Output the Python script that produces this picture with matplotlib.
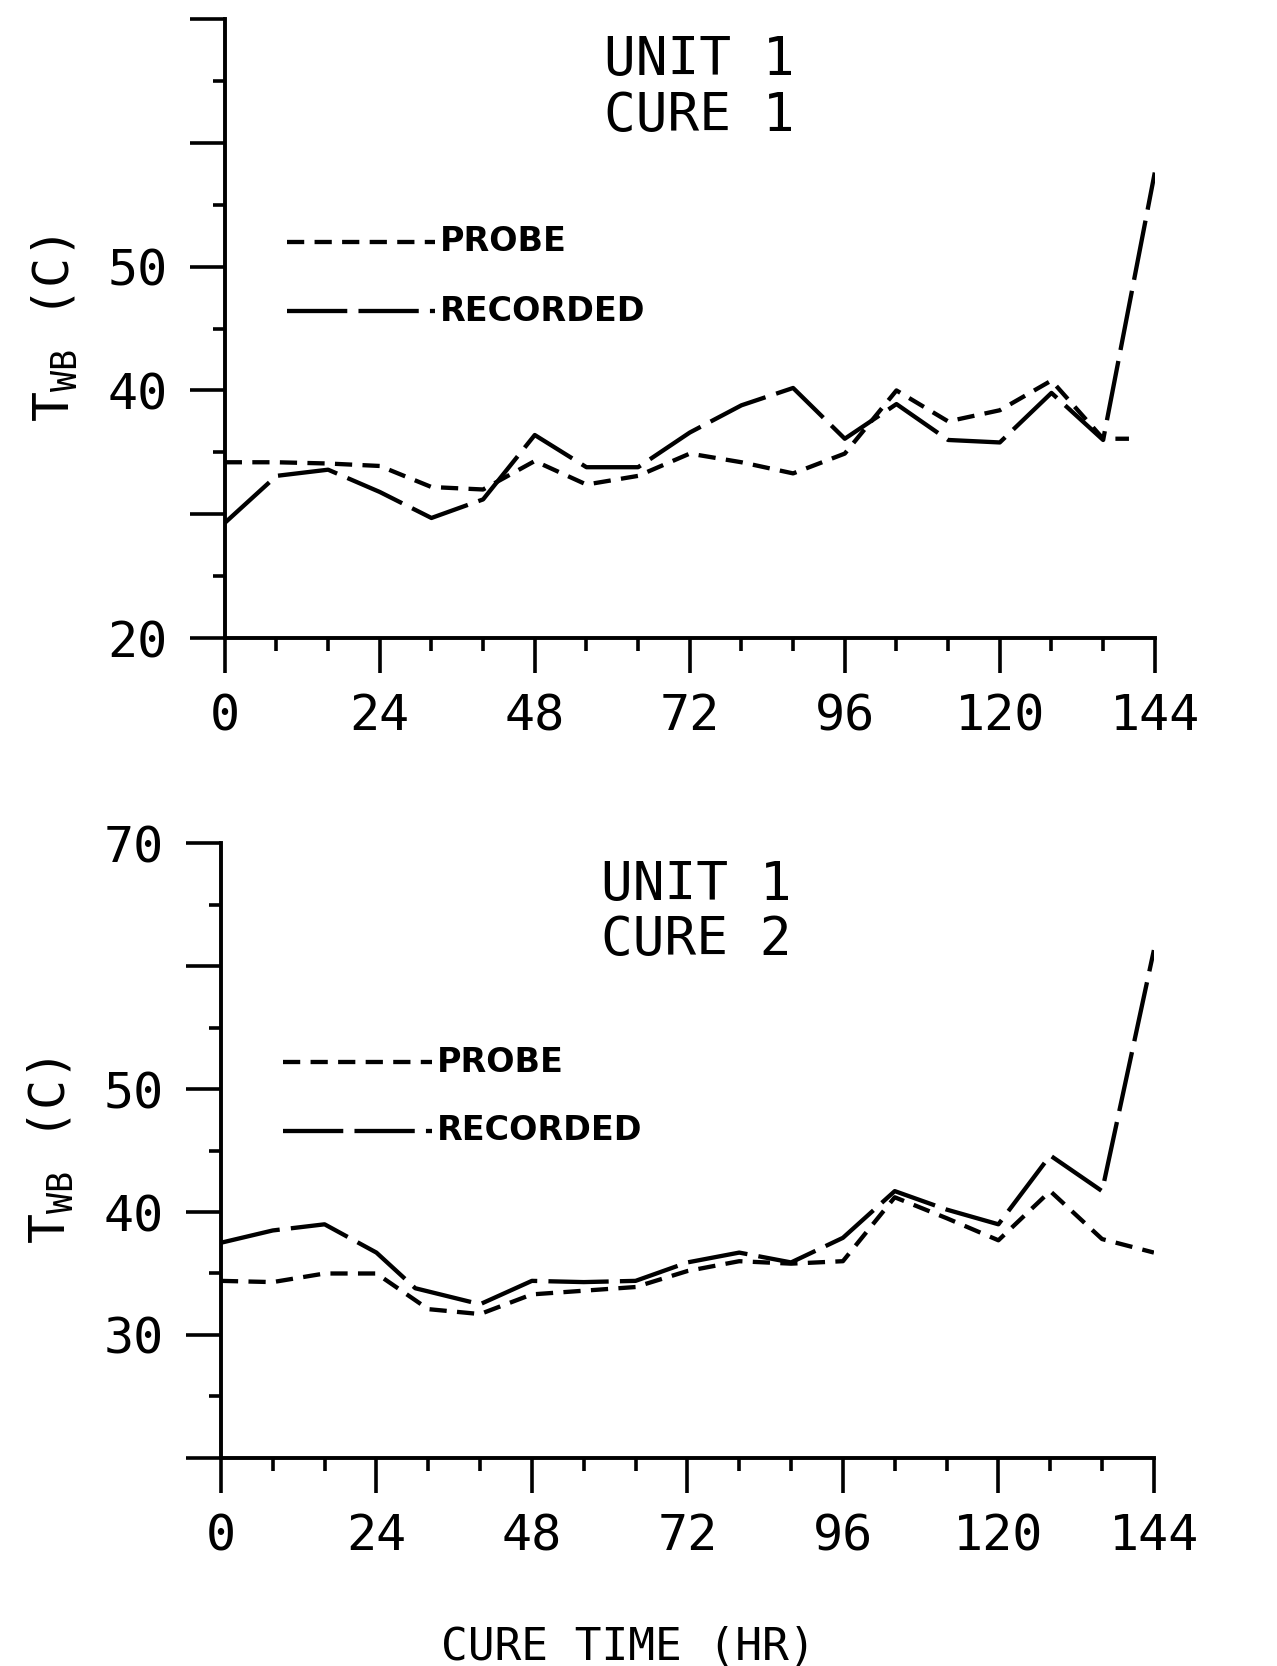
import matplotlib
matplotlib.use("Agg")
import matplotlib.pyplot as plt
from matplotlib.ticker import MultipleLocator, FixedLocator, FixedFormatter

# cure time (hr)
top_probe_hr = [0, 8, 16, 24, 32, 40, 48, 56, 64, 72, 80, 88, 96, 104, 112, 120, 128, 136, 140]
top_probe = [34.2, 34.2, 34.1, 33.9, 32.2, 32.0, 34.3, 32.4, 33.1, 34.9, 34.2, 33.3, 34.9, 40.0, 37.5, 38.4, 40.8, 36.1, 36.1]
top_rec_hr = [0, 8, 16, 24, 32, 40, 48, 56, 64, 72, 80, 88, 96, 104, 112, 120, 128, 136, 144]
top_rec = [29.3, 33.1, 33.6, 31.8, 29.7, 31.2, 36.4, 33.8, 33.8, 36.6, 38.8, 40.2, 36.1, 38.9, 36.0, 35.8, 39.8, 36.0, 57.6]

bot_probe_hr = [0, 8, 16, 24, 32, 40, 48, 56, 64, 72, 80, 88, 96, 104, 112, 120, 128, 136, 144]
bot_probe = [34.4, 34.3, 35.0, 35.0, 32.1, 31.7, 33.3, 33.6, 33.9, 35.2, 36.0, 35.8, 36.0, 41.2, 39.5, 37.7, 41.7, 37.8, 36.7]
bot_rec_hr = [0, 8, 16, 24, 30, 40, 48, 56, 64, 72, 80, 88, 96, 104, 112, 120, 128, 136, 144]
bot_rec = [37.5, 38.5, 39.0, 36.7, 33.8, 32.5, 34.4, 34.3, 34.4, 35.9, 36.7, 35.9, 37.9, 41.7, 40.2, 39.0, 44.6, 41.7, 61.3]

x_ticks = [0, 24, 48, 72, 96, 120, 144]
y_ticks = [20, 30, 40, 50, 60, 70]
top_ylabels = ["20", "", "40", "50", "", ""]
bot_ylabels = ["", "30", "40", "50", "", "70"]

MONO = "DejaVu Sans Mono"
LW = 3.1
probe_dash = (4.0, 2.4)
rec_dash = (14, 2.6)

fig = plt.figure(figsize=(12.77, 16.66), dpi=100)
ax1 = fig.add_axes([0.176, 0.617, 0.7283, 0.3716])
ax2 = fig.add_axes([0.173, 0.1249, 0.7306, 0.369])


def style(ax, ylabels, title, leg_y):
    ax.set_xlim(0, 144)
    ax.set_ylim(20, 70)
    for s in ["top", "right"]:
        ax.spines[s].set_visible(False)
    for s in ["left", "bottom"]:
        ax.spines[s].set_linewidth(2.8)
    ax.xaxis.set_major_locator(FixedLocator(x_ticks))
    ax.xaxis.set_minor_locator(MultipleLocator(8))
    ax.yaxis.set_major_locator(FixedLocator(y_ticks))
    ax.yaxis.set_major_formatter(FixedFormatter(ylabels))
    ax.yaxis.set_minor_locator(MultipleLocator(5))
    ax.tick_params(which="major", length=25, width=2.6, direction="out")
    ax.tick_params(which="minor", length=9, width=2.6, direction="out")
    ax.tick_params(axis="x", which="major", pad=14)
    ax.tick_params(axis="y", which="major", pad=16)
    for lab in ax.get_xticklabels() + ax.get_yticklabels():
        lab.set_fontfamily(MONO)
        lab.set_fontsize(36)
    ax.set_ylabel(r"T$_{\mathregular{WB}}$ (C)", fontsize=36, family=MONO, labelpad=20)
    ax.text(0.51, 0.975, title, transform=ax.transAxes, ha="center", va="top",
            fontsize=38, family=MONO, linespacing=1.08)
    # legend
    ax.plot([0.067, 0.226], [leg_y, leg_y], transform=ax.transAxes, color="black",
            lw=LW, dashes=probe_dash, clip_on=False)
    ax.plot([0.067, 0.226], [leg_y - 0.112, leg_y - 0.112], transform=ax.transAxes,
            color="black", lw=LW, dashes=rec_dash, clip_on=False)
    ax.text(0.231, leg_y, "PROBE", transform=ax.transAxes, va="center", ha="left",
            fontsize=24, fontweight="bold")
    ax.text(0.231, leg_y - 0.112, "RECORDED", transform=ax.transAxes, va="center",
            ha="left", fontsize=24, fontweight="bold")


ax1.plot(top_probe_hr, top_probe, color="black", lw=LW, dashes=probe_dash)
ax1.plot(top_rec_hr, top_rec, color="black", lw=LW, dashes=rec_dash)
style(ax1, top_ylabels, "UNIT 1\nCURE 1", 0.64)

ax2.plot(bot_probe_hr, bot_probe, color="black", lw=LW, dashes=probe_dash)
ax2.plot(bot_rec_hr, bot_rec, color="black", lw=LW, dashes=rec_dash)
style(ax2, bot_ylabels, "UNIT 1\nCURE 2", 0.644)

fig.text(0.492, 0.011, "CURE TIME (HR)", ha="center", va="center", fontsize=32, family=MONO)

fig.savefig("out.png", dpi=100)
